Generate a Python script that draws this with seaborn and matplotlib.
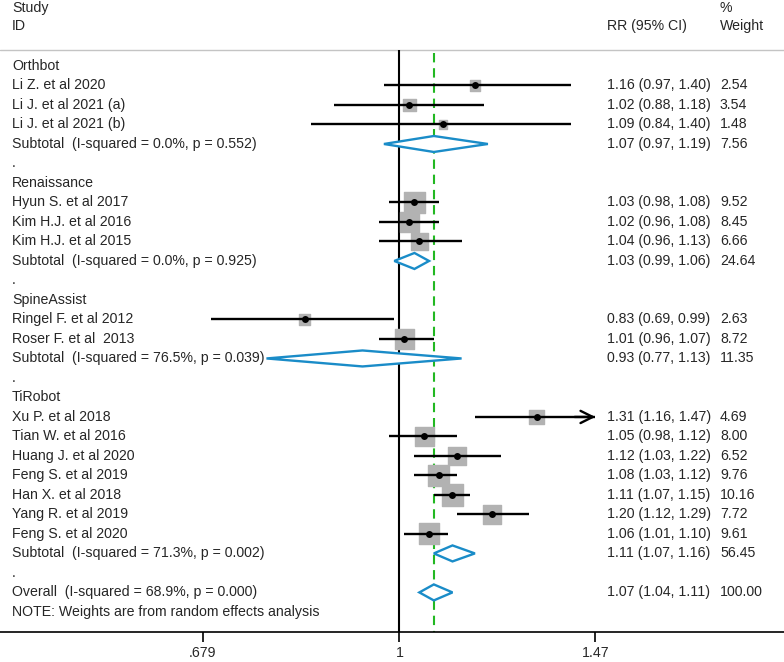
import numpy as np
import pandas as pd
import matplotlib
matplotlib.use("Agg")
import matplotlib.pyplot as plt
import seaborn as sns
from matplotlib.transforms import blended_transform_factory

sns.set_style("white")
plt.rcParams['font.family'] = ['Liberation Sans', 'DejaVu Sans']

# ---------------- data ----------------
groups = ["Orthbot", "Renaissance", "SpineAssist", "TiRobot"]

study_labels = [
    "Li Z. et al 2020", "Li J. et al 2021 (a)", "Li J. et al 2021 (b)",
    "Hyun S. et al 2017", "Kim H.J. et al 2016", "Kim H.J. et al 2015",
    "Ringel F. et al 2012", "Roser F. et al  2013",
    "Xu P. et al 2018", "Tian W. et al 2016", "Huang J. et al 2020",
    "Feng S. et al 2019", "Han X. et al 2018", "Yang R. et al 2019",
    "Feng S. et al 2020",
]
study_group = ["Orthbot"] * 3 + ["Renaissance"] * 3 + ["SpineAssist"] * 2 + ["TiRobot"] * 7
study_rr = [1.16, 1.02, 1.09, 1.03, 1.02, 1.04, 0.83, 1.01, 1.31, 1.05, 1.12, 1.08, 1.11, 1.20, 1.06]
study_lo = [0.97, 0.88, 0.84, 0.98, 0.96, 0.96, 0.69, 0.96, 1.16, 0.98, 1.03, 1.03, 1.07, 1.12, 1.01]
study_hi = [1.40, 1.18, 1.40, 1.08, 1.08, 1.13, 0.99, 1.07, 1.47, 1.12, 1.22, 1.12, 1.15, 1.29, 1.10]
study_weight = [2.54, 3.54, 1.48, 9.52, 8.45, 6.66, 2.63, 8.72, 4.69, 8.00, 6.52, 9.76, 10.16, 7.72, 9.61]

sub_i2 = ["0.0%", "0.0%", "76.5%", "71.3%"]
sub_p = ["0.552", "0.925", "0.039", "0.002"]
sub_rr = [1.07, 1.03, 0.93, 1.11]
sub_lo = [0.97, 0.99, 0.77, 1.07]
sub_hi = [1.19, 1.06, 1.13, 1.16]
sub_weight = [7.56, 24.64, 11.35, 56.45]

overall_i2 = "68.9%"
overall_p = "0.000"
overall_rr = 1.07
overall_lo = 1.04
overall_hi = 1.11
overall_weight = 100.00

tick_values = [0.679, 1.0, 1.47]
tick_labels = [".679", "1", "1.47"]

# ---------------- layout of rows ----------------
r = 0
study_rows = []
sub_rows = []
header_rows = []
dot_rows = []
for g_i, g in enumerate(groups):
    header_rows.append((r, g)); r += 1
    for s_i, sg in enumerate(study_group):
        if sg == g:
            study_rows.append((r, s_i)); r += 1
    sub_rows.append((r, g_i)); r += 1
    dot_rows.append(r); r += 1
overall_row = r; r += 1
note_row = r

study_df = pd.DataFrame({
    "label": study_labels,
    "rr": study_rr, "lo": study_lo, "hi": study_hi, "weight": study_weight,
})
study_df["row"] = [0] * len(study_df)
for row, s_i in study_rows:
    study_df.loc[s_i, "row"] = row

fig = plt.figure(figsize=(7.84, 6.62), dpi=100)
ax = fig.add_axes([0, 30 / 662, 1, 632 / 662])
ax.set_xscale("log")
ax.set_xlim(0.456, 2.13)
ax.set_ylim(29.03, -3.385)

fs = 10.2
tr = blended_transform_factory(ax.transAxes, ax.transData)
x_left, x_rr, x_w = 12 / 784, 607 / 784, 720 / 784
xmax_plot = max(tick_values)

# header
ax.text(x_left, -2.97, "Study", transform=tr, va="center", ha="left", fontsize=fs)
ax.text(x_left, -2.05, "ID", transform=tr, va="center", ha="left", fontsize=fs)
ax.text(x_rr, -2.05, "RR (95% CI)", transform=tr, va="center", ha="left", fontsize=fs)
ax.text(x_w, -2.97, "%", transform=tr, va="center", ha="left", fontsize=fs)
ax.text(x_w, -2.05, "Weight", transform=tr, va="center", ha="left", fontsize=fs)
ax.axhline(-0.82, color="#c4c4c4", lw=1.0, zorder=1)

# reference lines
ybottom = ax.get_ylim()[0]
ax.vlines(1.0, -0.82, ybottom, color="black", lw=1.5, zorder=2)
ax.vlines(overall_rr, -0.67, ybottom, color="#22b822", lw=1.5,
          linestyles=(0, (4.5, 2.8)), zorder=2)

# group headers and dots
for row, g in header_rows:
    ax.text(x_left, row, g, transform=tr, va="center", ha="left", fontsize=fs)
for row in dot_rows:
    ax.text(x_left, row, ".", transform=tr, va="center", ha="left", fontsize=fs)

# study squares
sq = "#b2b2b2"
sns.scatterplot(data=study_df, x="rr", y="row", marker="s", color=sq,
                s=np.array(study_weight) * 23.5, linewidth=1.0, edgecolor=sq,
                ax=ax, zorder=3, legend=False)

for _, d in study_df.iterrows():
    ax.hlines(d["row"], d["lo"], d["hi"], color="black", lw=1.7, zorder=4)
    if d["hi"] >= xmax_plot:
        ax.annotate("", xy=(d["hi"], d["row"]), xytext=(d["hi"] * 0.96, d["row"]),
                    arrowprops=dict(arrowstyle="->", lw=1.7, color="black",
                                    mutation_scale=22, shrinkA=0, shrinkB=0),
                    zorder=4)
    ax.text(x_left, d["row"], d["label"], transform=tr, va="center", ha="left", fontsize=fs)
    ax.text(x_rr, d["row"], f"{d['rr']:.2f} ({d['lo']:.2f}, {d['hi']:.2f})",
            transform=tr, va="center", ha="left", fontsize=fs)
    ax.text(x_w, d["row"], f"{d['weight']:.2f}", transform=tr, va="center",
            ha="left", fontsize=fs)

sns.scatterplot(data=study_df, x="rr", y="row", marker="o", color="black",
                s=25, linewidth=0, ax=ax, zorder=5, legend=False)

blue = "#1a8cc8"
hh = 0.41


def diamond(est, lo, hi, row):
    xs = [lo, est, hi, est, lo]
    ys = [row, row - hh, row, row + hh, row]
    ax.fill(xs, ys, facecolor="white", edgecolor=blue, lw=1.7, zorder=6)


for row, g_i in sub_rows:
    diamond(sub_rr[g_i], sub_lo[g_i], sub_hi[g_i], row)
    ax.text(x_left, row, f"Subtotal  (I-squared = {sub_i2[g_i]}, p = {sub_p[g_i]})",
            transform=tr, va="center", ha="left", fontsize=fs, zorder=7)
    ax.text(x_rr, row, f"{sub_rr[g_i]:.2f} ({sub_lo[g_i]:.2f}, {sub_hi[g_i]:.2f})",
            transform=tr, va="center", ha="left", fontsize=fs)
    ax.text(x_w, row, f"{sub_weight[g_i]:.2f}", transform=tr, va="center",
            ha="left", fontsize=fs)

diamond(overall_rr, overall_lo, overall_hi, overall_row)
ax.text(x_left, overall_row, f"Overall  (I-squared = {overall_i2}, p = {overall_p})",
        transform=tr, va="center", ha="left", fontsize=fs)
ax.text(x_rr, overall_row, f"{overall_rr:.2f} ({overall_lo:.2f}, {overall_hi:.2f})",
        transform=tr, va="center", ha="left", fontsize=fs)
ax.text(x_w, overall_row, f"{overall_weight:.2f}", transform=tr, va="center",
        ha="left", fontsize=fs)
ax.text(x_left, note_row, "NOTE: Weights are from random effects analysis",
        transform=tr, va="center", ha="left", fontsize=fs)

# axis styling
for side in ["top", "right", "left"]:
    ax.spines[side].set_visible(False)
ax.spines["bottom"].set_linewidth(1.2)
ax.spines["bottom"].set_color("black")
ax.set_xticks(tick_values)
ax.set_xticklabels(tick_labels, fontsize=fs)
ax.minorticks_off()
ax.tick_params(axis="x", which="major", direction="out", length=7, width=1.2,
               color="black", pad=3, bottom=True)
ax.set_yticks([])
ax.set_xlabel("")
ax.set_ylabel("")

fig.savefig("out.png", dpi=100)
